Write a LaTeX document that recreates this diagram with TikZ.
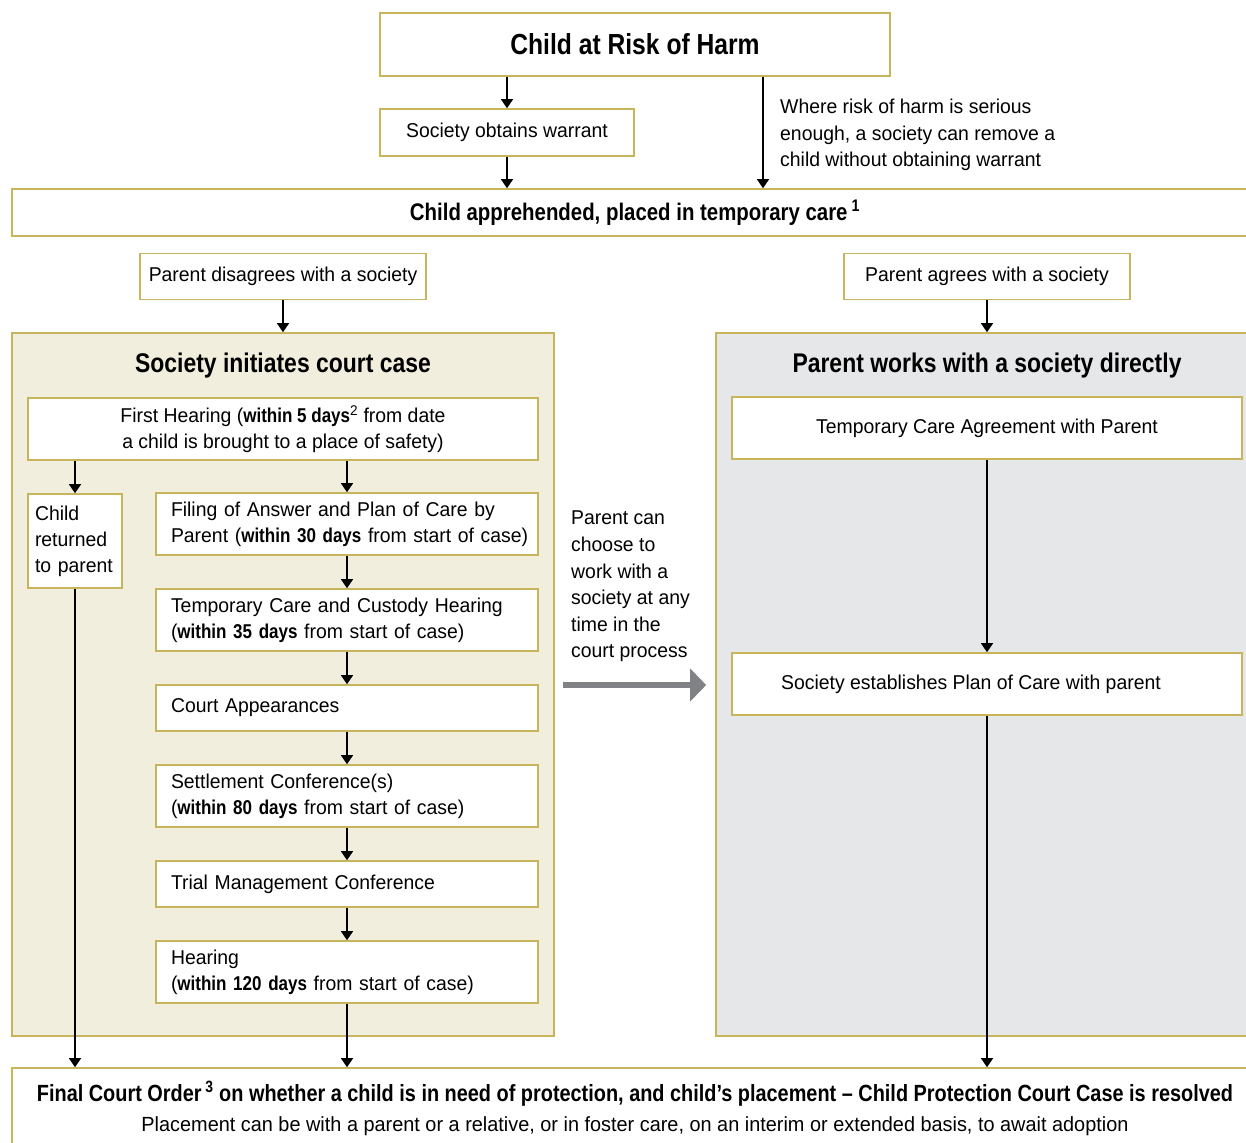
\documentclass[tikz,border=0pt]{standalone}
\usepackage{fontspec}
\setmainfont{Liberation Sans}[UprightFeatures={FakeStretch=0.97}, BoldFeatures={FakeStretch=0.85}]
\usetikzlibrary{arrows.meta}
\definecolor{gold}{HTML}{C8B45A}
\definecolor{beige}{HTML}{F2EEDE}
\definecolor{panelgray}{HTML}{E6E7E9}
\definecolor{arrowgray}{HTML}{808285}
\tikzset{
  box/.style={draw=gold, line width=1.6pt, fill=white, inner sep=0pt, align=center,
    font=\fontsize{20}{26}\selectfont},
  stepbox/.style={box, align=left, inner xsep=15pt, text width=352pt, minimum height=62pt},
  panel/.style={draw=gold, line width=1.6pt, inner sep=0pt, minimum width=542pt, minimum height=703pt},
  head/.style={inner sep=0pt, font=\bfseries\fontsize{27}{30}\selectfont},
  note/.style={align=left, inner sep=0pt, font=\fontsize{20}{26.6}\selectfont},
  arr/.style={-{Triangle[width=12pt,length=9pt]}, line width=1.2pt},
  every node/.append style={execute at begin node={\hyphenpenalty=10000}},
}
\begin{document}
\begin{tikzpicture}[x=1pt,y=-1pt]
  \useasboundingbox (0,0) rectangle (1246,1142);
  \clip (0,0) rectangle (1246,1142);
  % apprehension
  \node[box, minimum width=510pt, minimum height=63pt, font=\bfseries\fontsize{29}{32}\selectfont]
    (risk) at (635,44.5) {Child at Risk of Harm};
  \node[box, minimum width=254pt, minimum height=47pt] (warrant) at (507,132.5) {Society obtains warrant};
  \coordinate (direct) at (763,0);
  \node[note, anchor=north west] (serious) at (780,99)
    {Where risk of harm is serious\\enough, a society can remove a\\child without obtaining warrant};
  \node[box, minimum width=1246pt, minimum height=47pt, font=\bfseries\fontsize{24}{28}\selectfont]
    (appr) at (635,212.5) {Child apprehended, placed in temporary care\,\textsuperscript{1}};
  \draw[arr] (risk.south -| warrant) -- (warrant);
  \draw[arr] (warrant) -- (warrant |- appr.north);
  \draw[arr] (risk.south -| direct) -- (appr.north -| direct);
  % two ways
  \node[box, minimum width=286pt, minimum height=46pt] (disagree) at (283,276.5) {Parent disagrees with a society};
  \node[box, minimum width=286pt, minimum height=46pt] (agree) at (987,276.5) {Parent agrees with a society};
  \node[panel, fill=beige] (court) at (283,684.5) {};
  \node[panel, fill=panelgray] (work) at (987,684.5) {};
  \node[head] at (283,366) {Society initiates court case};
  \node[head] at (987,366) {Parent works with a society directly};
  \draw[arr] (disagree) -- (court);
  \draw[arr] (agree) -- (work);
  % court case
  \node[box, minimum width=510pt, minimum height=62pt] (first) at (283,429)
    {First Hearing (\textbf{within 5 days}\textsuperscript{2} from date\\a child is brought to a place of safety)};
  \node[box, align=left, inner xsep=7pt, text width=80pt, minimum height=94pt] (returned) at (75,541)
    {Child\\returned\\to parent};
  \node[stepbox] (filing) at (347,524)
    {Filing of Answer and Plan of Care by\\\mbox{Parent (\textbf{within 30 days} from start of case)}};
  \node[stepbox] (custody) at (347,620)
    {Temporary Care and Custody Hearing\\(\textbf{within 35 days} from start of case)};
  \node[stepbox, minimum height=46pt] (appear) at (347,708) {Court Appearances};
  \node[stepbox] (settle) at (347,796)
    {Settlement Conference(s)\\(\textbf{within 80 days} from start of case)};
  \node[stepbox, minimum height=46pt] (trial) at (347,884) {Trial Management Conference};
  \node[stepbox] (hearing) at (347,972)
    {Hearing\\(\textbf{within 120 days} from start of case)};
  \draw[arr] (first.south -| returned) -- (returned);
  \draw[arr] (first.south -| filing) -- (filing);
  \foreach \a/\b in {filing/custody, custody/appear, appear/settle, settle/trial, trial/hearing}
    \draw[arr] (\a) -- (\b);
  % working directly
  \node[box, minimum width=510pt, minimum height=62pt] (tca) at (987,428) {Temporary Care Agreement with Parent};
  \node[box, minimum width=510pt, minimum height=62pt] (plan) at (987,684)
    {Society establishes Plan of Care with parent\hspace*{32pt}};
  \draw[arr] (tca) -- (plan);
  \node[note, anchor=north west] (choose) at (571,511)
    {Parent can\\choose to\\work with a\\society at any\\time in the\\court process};
  \coordinate (switch) at (563,685);
  \draw[arrowgray, line width=6pt, -{Triangle[width=32pt,length=16pt]}] (switch) -- ([xshift=-9pt]work.west |- switch);
  % outcome
  \node[box, minimum width=1246pt, minimum height=80pt] (final) at (635,1108)
    {{\bfseries\fontsize{23.4}{28}\selectfont Final Court Order\,\textsuperscript{3} on whether a child is in need of protection, and child’s placement – Child Protection Court Case is resolved}\\[4pt]
     {\fontsize{20.5}{26}\selectfont Placement can be with a parent or a relative, or in foster care, on an interim or extended basis, to await adoption}};
  \draw[arr] (returned) -- (returned |- final.north);
  \draw[arr] (hearing) -- (hearing |- final.north);
  \draw[arr] (plan) -- (plan |- final.north);
\end{tikzpicture}
\end{document}
